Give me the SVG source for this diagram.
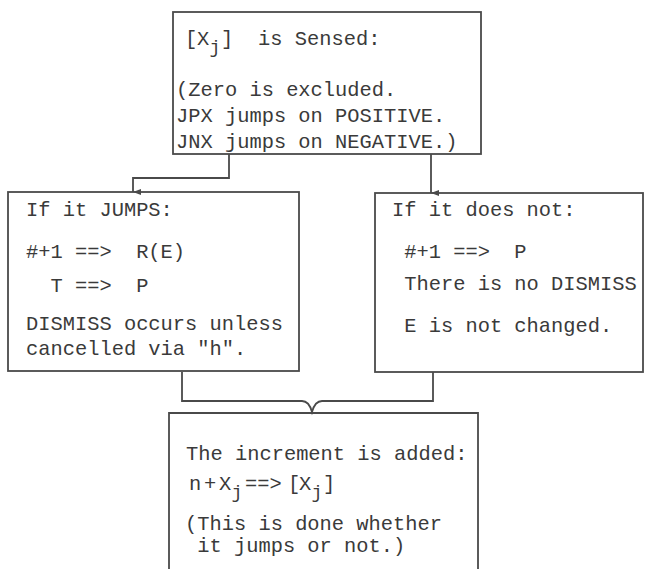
<svg xmlns="http://www.w3.org/2000/svg" width="646" height="569" viewBox="0 0 646 569">
<defs>
<style>
.box{fill:none;stroke:#4a4a4a;stroke-width:1.8}
.con{fill:none;stroke:#4a4a4a;stroke-width:1.8}
text{font-family:"Liberation Mono","Courier New",monospace;font-size:20.4px;fill:#3a3a3a;white-space:pre}
text.sub{font-size:18px}
</style>
<marker id="arr" viewBox="0 0 6 8" refX="3" refY="8" markerWidth="6" markerHeight="8" markerUnits="userSpaceOnUse" orient="auto-start-reverse">
<path d="M0,0 L3,8 L6,0 Z" fill="#4a4a4a"/>
</marker>
</defs>
<rect width="646" height="569" fill="#ffffff"/>
<g id="sensed">
<rect class="box" x="173" y="12" width="308" height="142"/>
<text x="185" y="45">[</text>
<text x="197" y="45">X</text>
<text class="sub" x="209.5" y="53">j</text>
<text x="221" y="45">]</text>
<text x="258" y="45">is Sensed:</text>
<text x="176" y="96">(Zero is excluded.</text>
<text x="176" y="122">JPX jumps on POSITIVE.</text>
<text x="176" y="148">JNX jumps on NEGATIVE.)</text>
</g>
<g id="jumps">
<rect class="box" x="8" y="192" width="291" height="179"/>
<text x="26" y="216">If it JUMPS:</text>
<text x="26" y="258">#+1 ==&gt;  R(E)</text>
<text x="26" y="292">  T ==&gt;  P</text>
<text x="26" y="330">DISMISS occurs unless</text>
<text x="26" y="355">cancelled via "h".</text>
</g>
<g id="notjump">
<rect class="box" x="375" y="193" width="268" height="179"/>
<text x="392" y="216">If it does not:</text>
<text x="392" y="258"> #+1 ==&gt;  P</text>
<text x="392" y="290"> There is no DISMISS</text>
<text x="392" y="332"> E is not changed.</text>
</g>
<g id="increment">
<path class="box" d="M169,569 V413 H478 V569"/>
<text x="186" y="460">The increment is added:</text>
<text x="189" y="490">n</text>
<text x="204" y="490">+</text>
<text x="219" y="490">X</text>
<text class="sub" x="231.5" y="498">j</text>
<text x="245" y="490">==&gt;</text>
<text x="288" y="490">[</text>
<text x="299" y="490">X</text>
<text class="sub" x="311.5" y="498">j</text>
<text x="323" y="490">]</text>
<text x="185" y="530">(This is done whether</text>
<text x="185" y="552"> it jumps or not.)</text>
</g>
<g id="connectors">
<path class="con" d="M229,154 V178 H133 V192" marker-end="url(#arr)"/>
<path class="con" d="M431,154 V193" marker-end="url(#arr)"/>
<path class="con" d="M182,372 V401 H302 Q309,401 312,412 Q315,401 322,401 H433 V372"/>
</g>
</svg>
